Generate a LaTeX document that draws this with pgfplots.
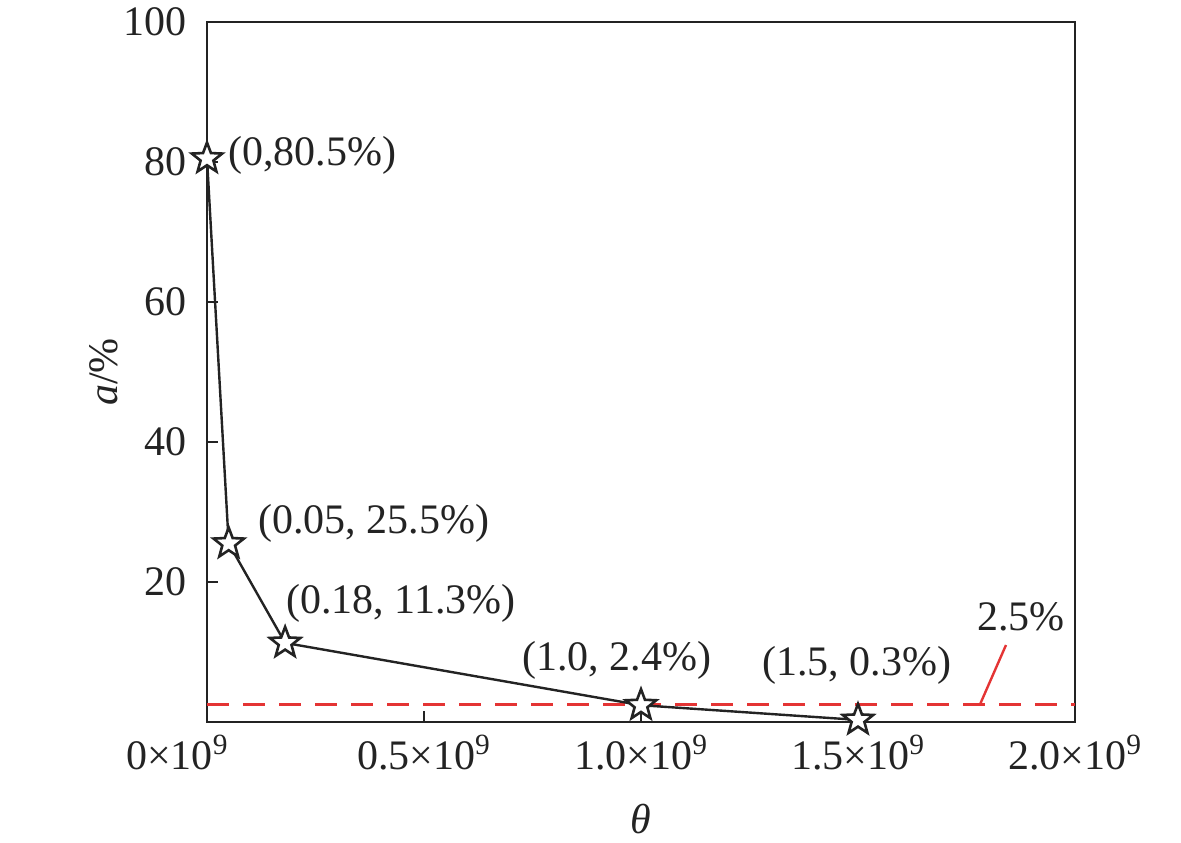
\documentclass[border=0pt]{standalone}
\usepackage{fontspec}
\setmainfont{Liberation Serif}
\usepackage{pgfplots}
\pgfplotsset{compat=1.18}
\definecolor{myred}{RGB}{228,52,52}
\definecolor{ink}{RGB}{35,35,35}
\pgfdeclareplotmark{fstar}{%
  \pgfpathmoveto{\pgfqpointpolar{90}{\pgfplotmarksize}}%
  \pgfpathlineto{\pgfqpointpolar{126}{0.42\pgfplotmarksize}}%
  \pgfpathlineto{\pgfqpointpolar{162}{\pgfplotmarksize}}%
  \pgfpathlineto{\pgfqpointpolar{198}{0.42\pgfplotmarksize}}%
  \pgfpathlineto{\pgfqpointpolar{234}{\pgfplotmarksize}}%
  \pgfpathlineto{\pgfqpointpolar{270}{0.42\pgfplotmarksize}}%
  \pgfpathlineto{\pgfqpointpolar{306}{\pgfplotmarksize}}%
  \pgfpathlineto{\pgfqpointpolar{342}{0.42\pgfplotmarksize}}%
  \pgfpathlineto{\pgfqpointpolar{18}{\pgfplotmarksize}}%
  \pgfpathlineto{\pgfqpointpolar{54}{0.42\pgfplotmarksize}}%
  \pgfpathclose
  \pgfusepathqfillstroke}
\begin{document}
\begin{tikzpicture}[x=1pt,y=1pt]
\begin{axis}[
  scale only axis,
  width=434pt, height=350pt,
  xmin=0, xmax=2e9, ymin=0, ymax=100,
  axis line style={ink, line width=1.4pt},
  xtick={0,0.5e9,1e9,1.5e9,2e9},
  xticklabels={\hspace*{-29.5pt}0×10\textsuperscript{9},0.5×10\textsuperscript{9},1.0×10\textsuperscript{9},1.5×10\textsuperscript{9},2.0×10\textsuperscript{9}},
  scaled x ticks=false,
  ytick={20,40,60,80,100},
  tick align=inside,
  xtick pos=bottom, ytick pos=left,
  major tick length=5.5pt,
  tick style={ink, line width=1.2pt},
  ticklabel style={font=\fontsize{21}{23}\selectfont, text=ink},
  /pgf/number format/assume math mode=true,
  xticklabel style={yshift=-3pt},
  yticklabel style={xshift=-6.5pt},
  xlabel={\textit{θ}},
  ylabel={\textit{a}/\%},
  label style={font=\fontsize{21}{23}\selectfont, text=ink},
  xlabel style={yshift=-10pt},
  ylabel style={yshift=-4pt},
  clip=false,
]
\addplot[myred, line width=1.1pt, dash pattern=on 11pt off 7pt] coordinates {(0,2.5) (2e9,2.5)};
\addplot[ink, line width=1.2pt, mark=fstar, mark size=8pt,
  mark options={line width=1.3pt, fill=white, draw=ink, solid}] coordinates {
  (0,80.5) (0.05e9,25.5) (0.18e9,11.3) (1.0e9,2.4) (1.5e9,0.3)};
\addplot[myred, line width=1.2pt] coordinates {(1.781e9,2.5) (1.841e9,11.0)};
\begin{scope}[every node/.style={font=\fontsize{21}{23}\selectfont, text=ink, inner sep=0pt}]
\node[anchor=west] at (axis cs:0.048e9,80.9) {(0,80.5\%)};
\node[anchor=west] at (axis cs:0.1175e9,28.4) {(0.05, 25.5\%)};
\node[anchor=west] at (axis cs:0.182e9,17.0) {(0.18, 11.3\%)};
\node[anchor=west] at (axis cs:0.726e9,8.86) {(1.0, 2.4\%)};
\node[anchor=west] at (axis cs:1.279e9,8.1) {(1.5, 0.3\%)};
\node at (axis cs:1.876e9,15.0) {2.5\%};
\end{scope}
\end{axis}
\pgfresetboundingbox
\path[use as bounding box] (-103.5,-60) rectangle (487,361);
\end{tikzpicture}
\end{document}
